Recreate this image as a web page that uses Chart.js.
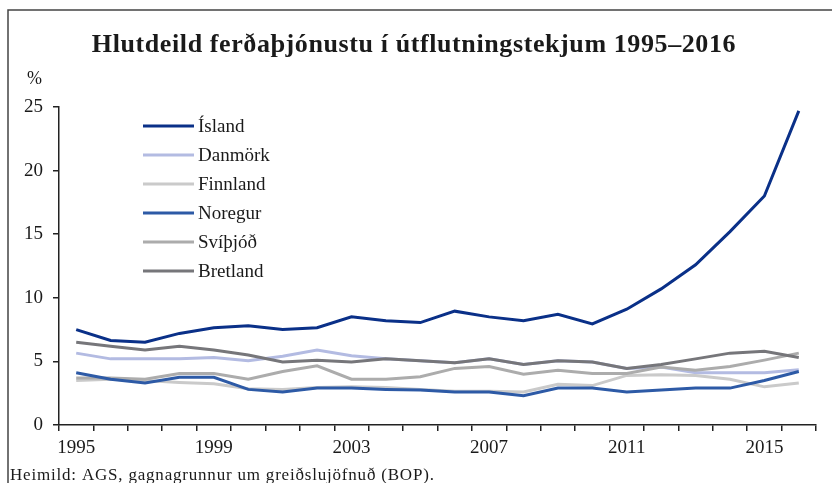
<!DOCTYPE html>
<html>
<head>
<meta charset="utf-8">
<script src="https://cdn.jsdelivr.net/npm/chart.js@4"></script>
<style>
  html, body { margin: 0; padding: 0; background: #fff; }
  #wrap { position: relative; width: 832px; height: 483px; }
</style>
</head>
<body>
<div id="wrap"><canvas id="tourismChart"></canvas></div>
<script>
// Data (% of export revenue)
const years = ['1995', '1996', '1997', '1998', '1999', '2000', '2001', '2002', '2003', '2004', '2005',
               '2006', '2007', '2008', '2009', '2010', '2011', '2012', '2013', '2014', '2015', '2016'];
const island   = [7.5, 6.65, 6.5, 7.2, 7.65, 7.8, 7.5, 7.65, 8.5, 8.2, 8.05, 8.95, 8.5, 8.2, 8.7, 7.95, 9.1, 10.7, 12.6, 15.2, 18.0, 24.7];
const danmork  = [5.65, 5.2, 5.2, 5.2, 5.3, 5.05, 5.4, 5.9, 5.45, 5.2, 5.05, 4.9, 5.2, 4.75, 5.05, 4.95, 4.45, 4.55, 4.1, 4.1, 4.1, 4.35];
const finnland = [3.5, 3.6, 3.5, 3.35, 3.25, 2.85, 2.8, 2.95, 3.0, 2.95, 2.8, 2.65, 2.65, 2.6, 3.2, 3.1, 3.9, 3.95, 3.9, 3.6, 3.0, 3.3];
const noregur  = [4.1, 3.6, 3.3, 3.75, 3.75, 2.8, 2.6, 2.9, 2.9, 2.8, 2.75, 2.6, 2.6, 2.3, 2.9, 2.9, 2.6, 2.75, 2.9, 2.9, 3.5, 4.2];
const svithjod = [3.7, 3.7, 3.6, 4.05, 4.05, 3.6, 4.2, 4.65, 3.6, 3.6, 3.8, 4.45, 4.6, 4.0, 4.3, 4.05, 4.05, 4.55, 4.3, 4.6, 5.1, 5.65];
const bretland = [6.5, 6.2, 5.9, 6.2, 5.9, 5.5, 4.95, 5.1, 4.95, 5.2, 5.05, 4.9, 5.2, 4.75, 5.05, 4.95, 4.45, 4.75, 5.2, 5.65, 5.8, 5.3];
const yTicks = [0, 5, 10, 15, 20, 25];

const SERIF = "'Liberation Serif', 'Times New Roman', serif";

function series(label, data, color, order) {
    return {
        label: label,
        data: data,
        borderColor: color,
        backgroundColor: color,
        borderWidth: 3,
        pointRadius: 0,
        tension: 0,
        order: order // lower order is drawn on top
    };
}

// Title, "%" unit, source line, frame and legend
const decorations = {
    id: 'decorations',
    afterDraw(chart) {
        const ctx = chart.ctx;
        ctx.save();

        // frame (left and top edges)
        ctx.strokeStyle = '#444';
        ctx.lineWidth = 1.5;
        ctx.beginPath();
        ctx.moveTo(8, 483);
        ctx.lineTo(8, 10);
        ctx.lineTo(832, 10);
        ctx.stroke();

        ctx.fillStyle = '#1a1a1a';
        ctx.textBaseline = 'alphabetic';

        ctx.font = 'bold 26px ' + SERIF;
        ctx.letterSpacing = '0.6px';
        ctx.textAlign = 'center';
        ctx.fillText('Hlutdeild ferðaþjónustu í útflutningstekjum 1995–2016', 414, 52);

        ctx.letterSpacing = '0px';
        ctx.font = '18px ' + SERIF;
        ctx.textAlign = 'left';
        ctx.fillText('%', 27, 84);

        ctx.font = '17px ' + SERIF;
        ctx.letterSpacing = '0.8px';
        ctx.fillText('Heimild: AGS, gagnagrunnur um greiðslujöfnuð (BOP).', 10, 480);
        ctx.letterSpacing = '0px';

        // legend, in dataset order
        ctx.font = '19px ' + SERIF;
        ctx.textBaseline = 'middle';
        chart.data.datasets.forEach((ds, i) => {
            const y = 126 + i * 29;
            ctx.strokeStyle = ds.borderColor;
            ctx.lineWidth = 3;
            ctx.beginPath();
            ctx.moveTo(143, y);
            ctx.lineTo(194, y);
            ctx.stroke();
            ctx.fillStyle = '#1a1a1a';
            ctx.fillText(ds.label, 198, y + 1);
        });

        ctx.restore();
    }
};

new Chart(document.getElementById('tourismChart').getContext('2d'), {
    type: 'line',
    data: {
        labels: years,
        datasets: [
            series('Ísland', island, '#0a3088', 0),
            series('Danmörk', danmork, '#b3bbe2', 5),
            series('Finnland', finnland, '#cacaca', 4),
            series('Noregur', noregur, '#2d5aa6', 1),
            series('Svíþjóð', svithjod, '#acacac', 3),
            series('Bretland', bretland, '#76767a', 2)
        ]
    },
    options: {
        responsive: true,
        maintainAspectRatio: false,
        animation: false,
        layout: { padding: { left: 0, top: 107, right: 16, bottom: 0 } },
        plugins: {
            legend: { display: false },
            tooltip: { enabled: false }
        },
        scales: {
            x: {
                offset: true,
                afterFit: scale => { scale.height = 58; },
                grid: {
                    offset: true,
                    drawOnChartArea: false,
                    drawTicks: true,
                    tickLength: 6,
                    color: '#222',
                    lineWidth: 1.5
                },
                border: { color: '#222', width: 1.5 },
                ticks: {
                    autoSkip: false,
                    maxRotation: 0,
                    padding: 6,
                    color: '#1a1a1a',
                    font: { family: SERIF, size: 19 },
                    callback: (v, i) => (i % 4 === 0 ? years[i] : '')
                }
            },
            y: {
                min: 0,
                max: 25,
                afterFit: scale => { scale.width = 59; },
                afterBuildTicks: scale => { scale.ticks = yTicks.map(v => ({ value: v })); },
                grid: {
                    drawOnChartArea: false,
                    drawTicks: true,
                    tickLength: 6,
                    color: '#222',
                    lineWidth: 1.5
                },
                border: { color: '#222', width: 1.5 },
                ticks: {
                    padding: 10,
                    color: '#1a1a1a',
                    font: { family: SERIF, size: 19 }
                }
            }
        }
    },
    plugins: [decorations]
});
</script>
</body>
</html>
